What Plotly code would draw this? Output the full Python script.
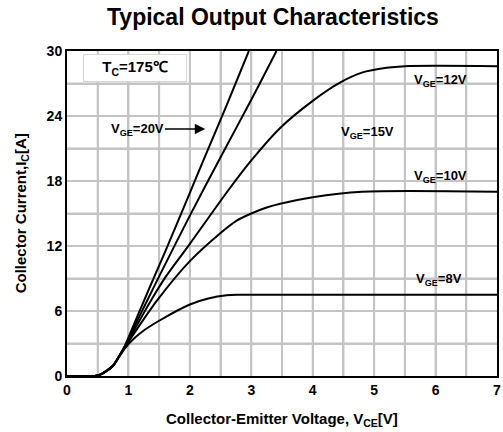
import numpy as np
import plotly.graph_objects as go

# ---- data ----
v_20 = [0, 0.45, 0.55, 0.65, 0.75, 0.85, 0.95, 1.1, 1.34, 1.6, 2.0, 2.22, 2.6, 2.96]
i_20 = [0, 0, 0.15, 0.5, 0.95, 1.85, 2.9, 4.9, 8.1, 11.5, 16.9, 19.9, 25.0, 30.0]

v_15 = [0, 0.45, 0.55, 0.65, 0.75, 0.85, 0.95, 1.1, 1.3, 1.5, 2.0, 2.5, 3.0, 3.41]
i_15 = [0, 0, 0.15, 0.5, 0.95, 1.85, 2.8, 4.6, 6.9, 9.2, 14.8, 20.2, 25.5, 30.0]

v_12 = [0, 0.45, 0.55, 0.65, 0.75, 0.85, 0.95, 1.1, 1.36, 1.6, 2.0, 2.62, 3.0, 3.47, 4.0, 4.45, 4.8, 5.2, 5.5, 7.0]
i_12 = [0, 0, 0.15, 0.5, 0.95, 1.85, 2.75, 4.3, 6.9, 9.1, 12.2, 17.1, 19.9, 22.9, 25.4, 27.1, 28.0, 28.45, 28.6, 28.6]

v_10 = [0, 0.45, 0.55, 0.65, 0.75, 0.85, 0.95, 1.1, 1.47, 2.0, 2.5, 2.75, 3.0, 3.25, 3.47, 4.0, 4.8, 7.0]
i_10 = [0, 0, 0.15, 0.5, 0.95, 1.8, 2.7, 4.0, 7.0, 10.6, 13.2, 14.3, 15.0, 15.55, 15.9, 16.5, 17.0, 17.0]

v_8 = [0, 0.45, 0.55, 0.65, 0.75, 0.85, 0.95, 1.1, 1.25, 1.5, 2.0, 2.3, 2.6, 2.8, 7.0]
i_8 = [0, 0, 0.15, 0.5, 0.95, 1.8, 2.6, 3.5, 4.2, 5.1, 6.6, 7.15, 7.45, 7.5, 7.5]

x_ticks = [0, 1, 2, 3, 4, 5, 6, 7]
y_ticks = [0, 6, 12, 18, 24, 30]
x_grid_step = 0.5
y_grid_step = 3

curves = [(v_20, i_20), (v_15, i_15), (v_12, i_12), (v_10, i_10), (v_8, i_8)]

labels = [
    ("V<sub>GE</sub>=15V", 4.89, 22.5),
    ("V<sub>GE</sub>=12V", 6.08, 27.3),
    ("V<sub>GE</sub>=10V", 6.08, 18.45),
    ("V<sub>GE</sub>=8V", 6.05, 8.9),
]

FONT = "Liberation Sans, Arial, sans-serif"
GRID = "#c4c4c4"
X_MAX = x_ticks[-1]
Y_MAX = y_ticks[-1]


def b(s):
    return "<b>" + s + "</b>"


fig = go.Figure()
for v, i in curves:
    fig.add_trace(go.Scatter(x=v, y=i, mode="lines",
                             line=dict(color="black", width=2, shape="spline", smoothing=0.8),
                             showlegend=False))

# grid lines at the axis grid spacing (drawn below the curves)
grid_shapes = []
for gx in np.arange(x_grid_step, X_MAX, x_grid_step):
    grid_shapes.append(dict(type="line", xref="x", yref="y", x0=float(gx), x1=float(gx),
                            y0=0, y1=Y_MAX, line=dict(color=GRID, width=2), layer="below"))
for gy in np.arange(y_grid_step, Y_MAX, y_grid_step):
    grid_shapes.append(dict(type="line", xref="x", yref="y", x0=0, x1=X_MAX,
                            y0=float(gy), y1=float(gy), line=dict(color=GRID, width=2), layer="below"))
fig.update_layout(shapes=grid_shapes)

for txt, x, y in labels:
    fig.add_annotation(x=x, y=y, text=b(txt), showarrow=False,
                       font=dict(family=FONT, size=13, color="black"))

# VGE=20V label with arrow
fig.add_annotation(x=1.14, y=22.8, text=b("V<sub>GE</sub>=20V"), showarrow=False,
                   font=dict(family=FONT, size=13, color="black"))
fig.add_annotation(x=2.25, y=22.8, ax=1.57, ay=22.8, axref="x", ayref="y",
                   text="", showarrow=True, arrowhead=2, arrowsize=1.3,
                   arrowwidth=1.6, arrowcolor="black")

# Tc box
fig.add_annotation(x=1.11, y=28.4, text=b("T<sub>C</sub>=175\u2103"), showarrow=False,
                   font=dict(family=FONT, size=15, color="black"),
                   bgcolor="white", bordercolor="#d6d6d6", borderwidth=1,
                   width=100, height=24, borderpad=1)

# chart title and axis titles as paper-anchored text
fig.add_annotation(xref="paper", yref="paper", x=0.478, y=1.105, xanchor="center", yanchor="middle",
                   text=b("Typical Output Characteristics"), showarrow=False,
                   font=dict(family=FONT, size=23, color="black"))
fig.add_annotation(xref="paper", yref="paper", x=0.5, y=-0.135, xanchor="center", yanchor="middle",
                   text=b("Collector-Emitter Voltage, V<sub>CE</sub>[V]"), showarrow=False,
                   font=dict(family=FONT, size=15, color="black"))
fig.add_annotation(xref="paper", yref="paper", x=-0.105, y=0.5, xanchor="center", yanchor="middle",
                   text=b("Collector Current,I<sub>C</sub>[A]"), showarrow=False, textangle=-90,
                   font=dict(family=FONT, size=15, color="black"))

tick_font = dict(family=FONT, size=14, color="black")

fig.update_xaxes(range=[0, X_MAX], tickmode="array", tickvals=x_ticks,
                 ticktext=[b(str(t)) for t in x_ticks],
                 showgrid=True, gridcolor=GRID, gridwidth=2,
                 minor=dict(tickmode="linear", tick0=0, dtick=x_grid_step,
                            showgrid=True, gridcolor=GRID, gridwidth=2),
                 showline=True, linecolor="black", linewidth=2, mirror=True,
                 zeroline=False, tickfont=tick_font, automargin=False)
fig.update_yaxes(range=[0, Y_MAX], tickmode="array", tickvals=y_ticks,
                 ticktext=[b(str(t)) for t in y_ticks],
                 showgrid=True, gridcolor=GRID, gridwidth=2,
                 minor=dict(tickmode="linear", tick0=0, dtick=y_grid_step,
                            showgrid=True, gridcolor=GRID, gridwidth=2),
                 showline=True, linecolor="black", linewidth=2, mirror=True,
                 zeroline=False, tickfont=tick_font, automargin=False)

fig.update_layout(
    width=503, height=432,
    margin=dict(l=67, r=6, t=51, b=56, autoexpand=False),
    paper_bgcolor="white", plot_bgcolor="white",
)

fig.write_html("out.html")
